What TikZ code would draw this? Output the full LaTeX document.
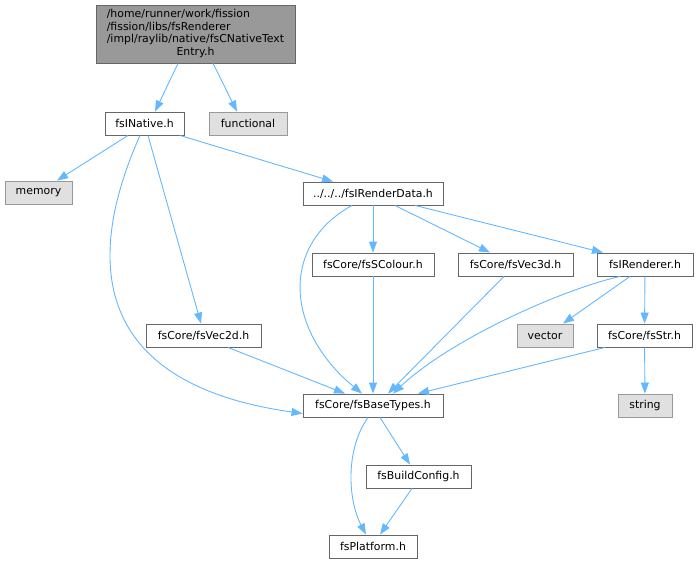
\documentclass[tikz,border=0pt]{standalone}
\usepackage{fontspec}
\setmainfont{DejaVu Sans}
\usepackage{xcolor}
\usetikzlibrary{arrows.meta}

\begin{document}
\begin{tikzpicture}[x=1pt,y=1pt,yscale=-1,
  filenode/.style={draw={rgb, 255:red, 102; green, 102; blue, 102}, fill=white, line width=0.9pt,
    minimum height=23pt, inner sep=0pt, font=\fontsize{10.9}{12.5}\selectfont},
  sysnode/.style={filenode, draw={rgb, 255:red, 153; green, 153; blue, 153}, fill={rgb, 255:red, 224; green, 224; blue, 224}},
  rootnode/.style={filenode, fill={rgb, 255:red, 153; green, 153; blue, 153}},
  incl/.style={draw={rgb, 255:red, 99; green, 184; blue, 255}, line width=0.9pt,
    -{Triangle[length=11pt,width=8pt]}}]
\useasboundingbox (0,0) rectangle (698,564);

% Root header
\node[rootnode, minimum width=199pt, minimum height=58pt] (root) at (195.5,34)
  {\begin{tabular}{@{}l@{}}/home/runner/work/fission\\/fission/libs/fsRenderer\\/impl/raylib/native/fsCNativeText\\\multicolumn{1}{@{}c@{}}{Entry.h}\end{tabular}};

% Headers
\node[filenode, minimum width=79pt] (native) at (144.5,123.5) {fsINative.h};
\node[sysnode, minimum width=78pt] (functional) at (248,123.5) {functional};
\node[sysnode, minimum width=67pt] (memory) at (38.5,192.5) {memory};
\node[filenode, minimum width=140pt] (renderdata) at (373,193.5) {../../../fsIRenderData.h};
\node[filenode, minimum width=122pt] (scolour) at (373,264.5) {fsCore/fsSColour.h};
\node[filenode, minimum width=115pt] (vecthree) at (515.5,264.5) {fsCore/fsVec3d.h};
\node[filenode, minimum width=96pt] (renderer) at (645,264.5) {fsIRenderer.h};
\node[filenode, minimum width=115pt] (vectwo) at (203.5,335.5) {fsCore/fsVec2d.h};
\node[sysnode, minimum width=56pt] (vector) at (545,335.5) {vector};
\node[filenode, minimum width=95pt] (fsstr) at (644.5,335.5) {fsCore/fsStr.h};
\node[filenode, minimum width=140pt] (basetypes) at (373,405.5) {fsCore/fsBaseTypes.h};
\node[sysnode, minimum width=54pt] (string) at (645,405.5) {string};
\node[filenode, minimum width=105pt] (buildconfig) at (418.5,476.5) {fsBuildConfig.h};
\node[filenode, minimum width=88pt] (platform) at (373,546.5) {fsPlatform.h};

% Includes
\draw[incl] ([xshift=-17.5pt]root.south) -- ([xshift=10.5pt]native.north);
\draw[incl] ([xshift=17.5pt]root.south) -- ([xshift=-11pt]functional.north);
\draw[incl] ([xshift=-16.5pt]native.south) -- ([xshift=18.5pt]memory.north);
\draw[incl] ([xshift=-4.5pt]native.south) .. controls (80,270) and (100,385) .. ([yshift=8pt]basetypes.west);
\draw[incl] ([xshift=3.5pt]native.south) -- ([xshift=-2.5pt]vectwo.north);
\draw[incl] ([xshift=35.5pt]native.south) -- ([xshift=-40pt]renderdata.north);
\draw[incl] ([xshift=-21pt]renderdata.south) .. controls (280,245) and (285,330) .. ([xshift=-11pt]basetypes.north);
\draw[incl] (renderdata) -- (scolour);
\draw[incl] ([xshift=22pt]renderdata.south) -- ([xshift=-25.5pt]vecthree.north);
\draw[incl] ([xshift=42pt]renderdata.south) -- ([xshift=-42pt]renderer.north);
\draw[incl] (scolour) -- (basetypes);
\draw[incl] ([xshift=-11.5pt]vecthree.south) -- ([xshift=15pt]basetypes.north);
\draw[incl] ([xshift=-25pt]renderer.south) .. controls (560,290) and (450,340) .. ([xshift=20pt]basetypes.north);
\draw[incl] ([xshift=-15pt]renderer.south) -- ([xshift=18pt]vector.north);
\draw[incl] (renderer) -- (fsstr);
\draw[incl] ([xshift=24.5pt]vectwo.south) -- ([xshift=-28pt]basetypes.north);
\draw[incl] ([xshift=-39.5pt]fsstr.south) -- ([xshift=45pt]basetypes.north);
\draw[incl] (fsstr) -- (string);
\draw[incl] ([xshift=7pt]basetypes.south) -- ([xshift=-8.5pt]buildconfig.north);
\draw[incl] ([xshift=-5pt]basetypes.south) .. controls (345,450) and (348,500) .. ([xshift=-7pt]platform.north);
\draw[incl] ([xshift=-6.5pt]buildconfig.south) -- ([xshift=7pt]platform.north);

\end{tikzpicture}
\end{document}
